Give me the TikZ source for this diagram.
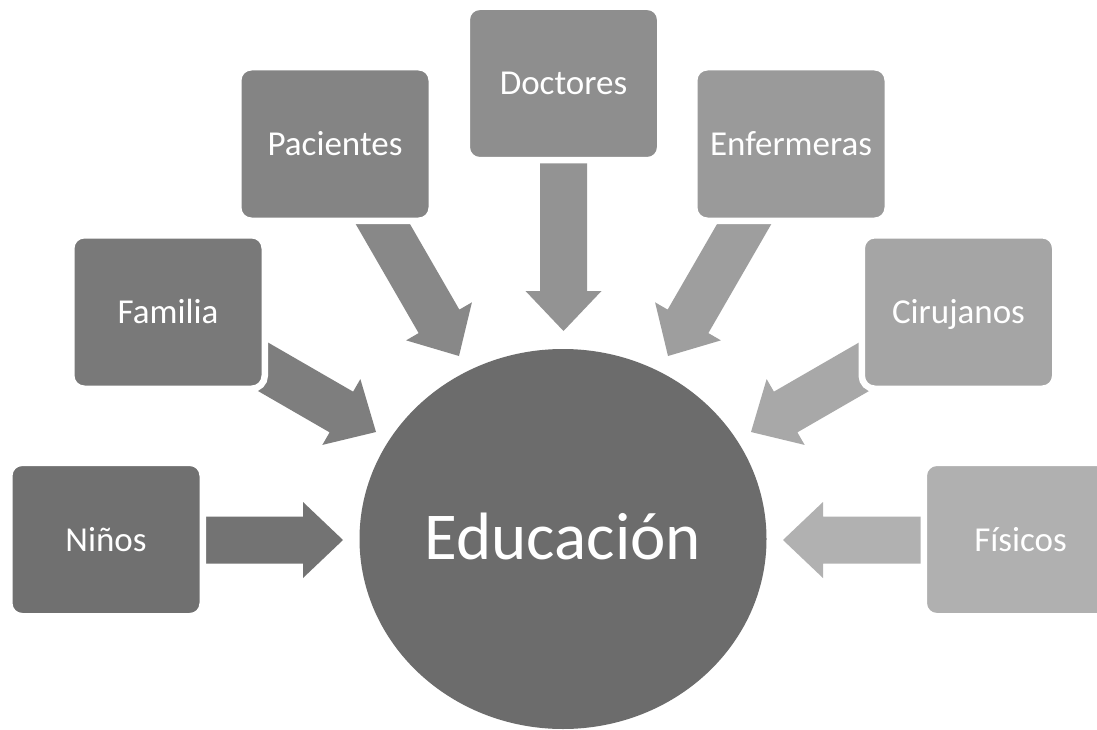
\documentclass[tikz,border=0pt]{standalone}
\usepackage{fontspec}
\setmainfont{Carlito}
\usetikzlibrary{shapes.geometric}
\definecolor{cA}{HTML}{707070}
\definecolor{cB}{HTML}{797979}
\definecolor{cC}{HTML}{848484}
\definecolor{cD}{HTML}{8E8E8E}
\definecolor{cE}{HTML}{9A9A9A}
\definecolor{cF}{HTML}{A5A5A5}
\definecolor{cG}{HTML}{B0B0B0}
\definecolor{aA}{HTML}{737373}
\definecolor{aB}{HTML}{7E7E7E}
\definecolor{aC}{HTML}{888888}
\definecolor{aD}{HTML}{939393}
\definecolor{aE}{HTML}{9E9E9E}
\definecolor{aF}{HTML}{A8A8A8}
\definecolor{aG}{HTML}{B1B1B1}
\definecolor{cCircle}{HTML}{6C6C6C}
\newcommand\blkarrow[3]{%
  \fill[#3, shift={(#1)}, rotate=#2] (0,0) -- (-40,38) -- (-40,23.5) -- (-190,23.5)
    -- (-190,-23.5) -- (-40,-23.5) -- (-40,-38) -- cycle;}
\tikzset{
  box/.style={rectangle, rounded corners=13pt, minimum width=193.5pt, minimum height=153.5pt,
    draw=white, line width=6.5pt, inner sep=0pt, text=white,
    font=\fontsize{35}{40}\selectfont, text height=23pt, text depth=0pt},
  hub/.style={ellipse, minimum width=407pt, minimum height=380pt, inner sep=0pt,
    fill=cCircle, text=white, font=\fontsize{67}{70}\selectfont, text height=40pt, text depth=0pt}
}
\begin{document}
\begin{tikzpicture}[x=1pt,y=-1pt]
\useasboundingbox (0,0) rectangle (1097,730);
\fill[white] (0,0) rectangle (1097,730);
\clip (0,0) rectangle (1097,730);
\node[hub] (edu) at (563,539) {Educación};
% arrow tips
\coordinate (tA) at (343,540);
\coordinate (tB) at (376,432);
\coordinate (tC) at (459,356);
\coordinate (tD) at (563.5,331);
\coordinate (tE) at (668,356);
\coordinate (tF) at (751,432);
\coordinate (tG) at (783,540);
\blkarrow{tA}{0}{aA}
\blkarrow{tB}{-30}{aB}
\blkarrow{tC}{-60}{aC}
\blkarrow{tD}{-90}{aD}
\blkarrow{tE}{-120}{aE}
\blkarrow{tF}{-150}{aF}
\blkarrow{tG}{180}{aG}
% boxes
\node[box, fill=cA] (ninos) at (106,539.5) {Niños};
\node[box, fill=cB] (familia) at (168,312) {Familia};
\node[box, fill=cC] (pacientes) at (335,144) {Pacientes};
\node[box, fill=cD] (doctores) at (563.5,83.5) {Doctores};
\node[box, fill=cE] (enfermeras) at (791,144) {Enfermeras};
\node[box, fill=cF] (cirujanos) at (958.5,312) {Cirujanos};
\node[box, fill=cG] (fisicos) at (1020.5,539.5) {Físicos};
\end{tikzpicture}
\end{document}
